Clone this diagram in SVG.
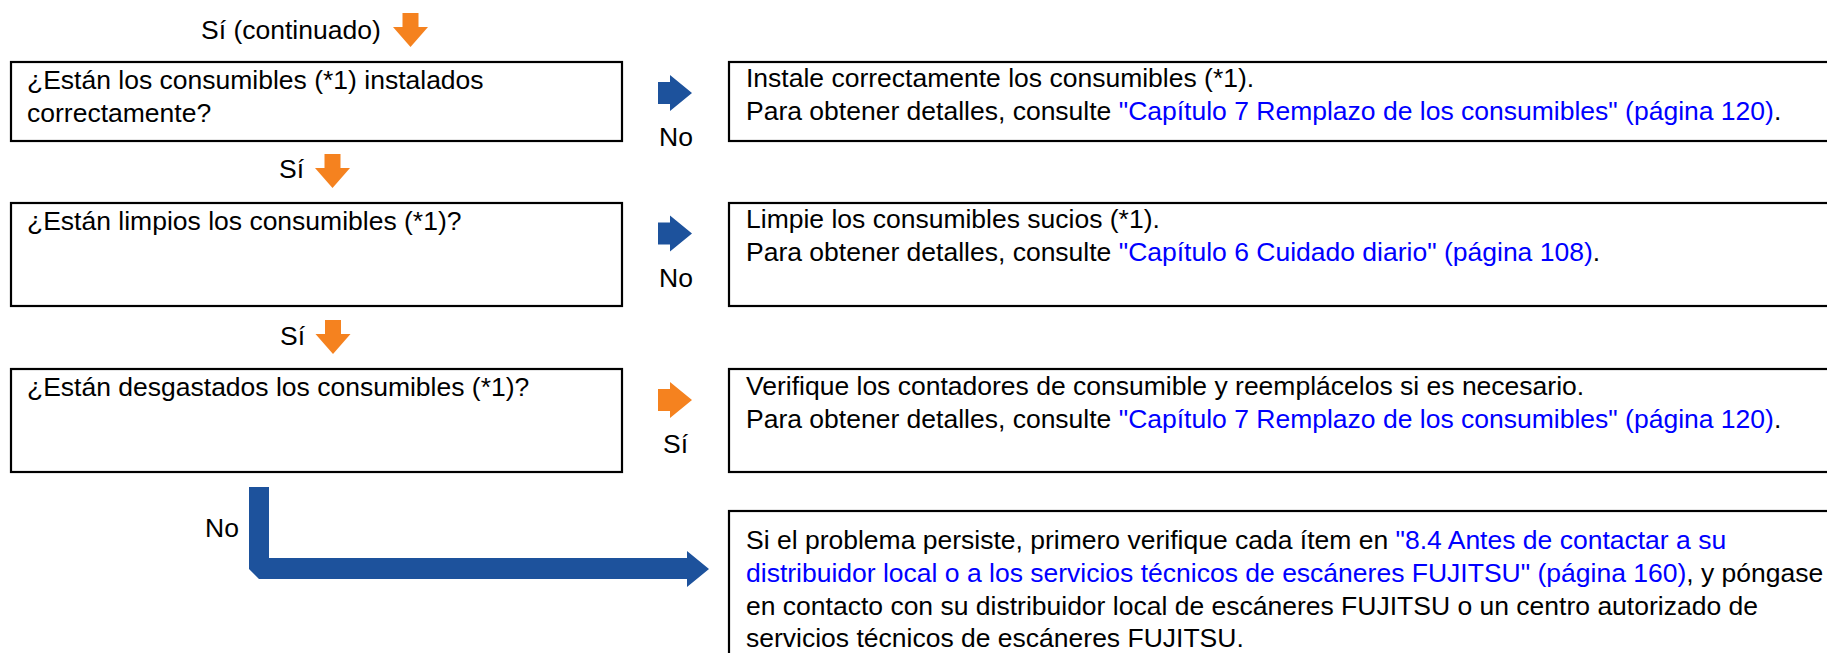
<svg xmlns="http://www.w3.org/2000/svg" width="1827" height="653" viewBox="0 0 1827 653">
<style>
text{font-family:"Liberation Sans",Arial,sans-serif;font-size:26.5px;fill:#000}
.lk{fill:#0000ff}
.box{fill:#fff;stroke:#000;stroke-width:2.2}
.or{fill:#f5821f}
.bl{fill:#1d529c}
</style>
<defs>
<path id="dn" d="M-8,0 H8 V14 H17.5 L0,34 L-17.5,14 H-8 Z"/>
<path id="rt" d="M0,-11 H12 V-18 L34,0 L12,18 V11 H0 Z"/>
</defs>
<rect width="1827" height="653" fill="#fff"/>
<g id="connectors">
<use href="#dn" class="or" x="410.5" y="13"/>
<use href="#dn" class="or" x="332.5" y="154"/>
<use href="#dn" class="or" x="333" y="320"/>
<use href="#rt" class="bl" x="658" y="93"/>
<use href="#rt" class="bl" x="658" y="233.5"/>
<use href="#rt" class="or" x="658" y="400"/>
<path class="bl" d="M249,487 H269 V558 H687 V551 L709,569 L687,587 V579 H259 L249,569 Z"/>
<text x="201" y="39">Sí (continuado)</text>
<text x="279" y="178">Sí</text>
<text x="280" y="345">Sí</text>
<text x="659" y="146">No</text>
<text x="659" y="287">No</text>
<text x="663" y="453">Sí</text>
<text x="205" y="537">No</text>
</g>
<g id="q1">
<rect class="box" x="11" y="62" width="611" height="79"/>
<text x="27" y="89">¿Están los consumibles (*1) instalados</text>
<text x="27" y="122">correctamente?</text>
</g>
<g id="q2">
<rect class="box" x="11" y="203" width="611" height="103"/>
<text x="27" y="230">¿Están limpios los consumibles (*1)?</text>
</g>
<g id="q3">
<rect class="box" x="11" y="369" width="611" height="103"/>
<text x="27" y="396">¿Están desgastados los consumibles (*1)?</text>
</g>
<g id="a1">
<rect class="box" x="729" y="62" width="1110" height="79"/>
<text x="746" y="87">Instale correctamente los consumibles (*1).</text>
<text x="746" y="120">Para obtener detalles, consulte <tspan class="lk">"Capítulo 7 Remplazo de los consumibles" (página 120)</tspan>.</text>
</g>
<g id="a2">
<rect class="box" x="729" y="203" width="1110" height="103"/>
<text x="746" y="228">Limpie los consumibles sucios (*1).</text>
<text x="746" y="261">Para obtener detalles, consulte <tspan class="lk">"Capítulo 6 Cuidado diario" (página 108)</tspan>.</text>
</g>
<g id="a3">
<rect class="box" x="729" y="369" width="1110" height="103"/>
<text x="746" y="395">Verifique los contadores de consumible y reemplácelos si es necesario.</text>
<text x="746" y="428">Para obtener detalles, consulte <tspan class="lk">"Capítulo 7 Remplazo de los consumibles" (página 120)</tspan>.</text>
</g>
<g id="a4">
<rect class="box" x="729" y="511" width="1110" height="160"/>
<text x="746" y="549">Si el problema persiste, primero verifique cada ítem en <tspan class="lk">"8.4 Antes de contactar a su</tspan></text>
<text x="746" y="582"><tspan class="lk">distribuidor local o a los servicios técnicos de escáneres FUJITSU" (página 160)</tspan>, y póngase</text>
<text x="746" y="615">en contacto con su distribuidor local de escáneres FUJITSU o un centro autorizado de</text>
<text x="746" y="647">servicios técnicos de escáneres FUJITSU.</text>
</g>
</svg>
